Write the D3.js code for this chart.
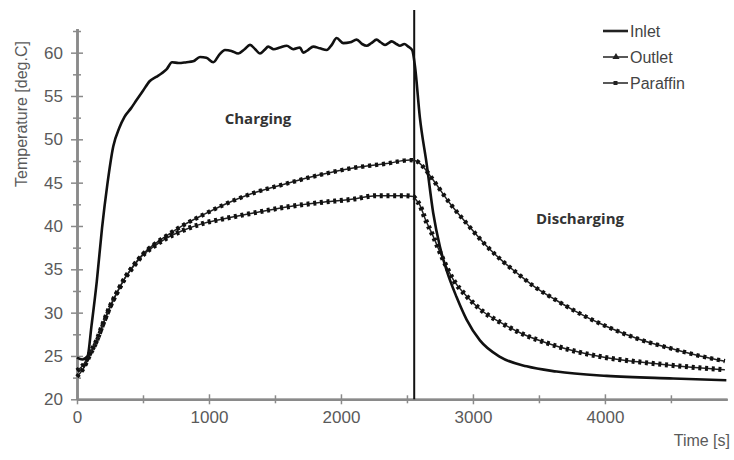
<!DOCTYPE html>
<html>
<head>
<meta charset="utf-8">
<script src="https://cdnjs.cloudflare.com/ajax/libs/d3/7.8.5/d3.min.js"></script>
<style>
  body { margin: 0; background: #fff; }
  text { font-family: "Liberation Sans", Arial, sans-serif; }
</style>
</head>
<body>
<div id="chart"></div>
<script>
// values (time in s, temperature in deg C)
const inletTime = [0, 40, 80, 110, 150, 190, 230, 275, 320, 360, 410, 450, 500, 550, 600, 640, 680, 720, 770, 830,
  880, 932, 980, 1033, 1080, 1121, 1170, 1222, 1270, 1311, 1350, 1386, 1420, 1449, 1490, 1538, 1589, 1639, 1689, 1714,
  1750, 1790, 1840, 1892, 1930, 1967, 2018, 2070, 2119, 2160, 2195, 2230, 2270, 2300, 2333, 2360, 2384, 2420, 2447, 2480,
  2510, 2540, 2561, 2598, 2649, 2699, 2750, 2800, 2876, 2952, 3053, 3205, 3407, 3634, 4013, 4517, 4920];
const inletTemp = [24.8, 24.6, 25.0, 28.5, 33.6, 39.8, 44.8, 49.2, 51.3, 52.6, 53.6, 54.5, 55.6, 56.7, 57.2, 57.6, 58.1, 58.9, 58.8, 58.9,
  59.0, 59.5, 59.4, 58.9, 59.8, 60.3, 60.2, 59.9, 60.4, 60.9, 60.4, 59.9, 60.3, 60.7, 60.4, 60.6, 60.8, 60.4, 60.6, 60.0,
  60.3, 60.7, 60.5, 60.3, 60.9, 61.7, 61.1, 61.2, 61.5, 61.0, 60.8, 61.1, 61.5, 61.2, 60.9, 61.1, 61.3, 61.0, 60.8, 61.0,
  60.7, 60.3, 58.4, 52.5, 47.2, 41.5, 37.6, 34.9, 31.8, 29.2, 26.8, 24.9, 23.8, 23.2, 22.7, 22.4, 22.2];

const outletTime = [0, 50, 98, 149, 199, 250, 313, 364, 426, 490, 578, 680, 806, 957, 1134, 1336, 1589, 1841, 2093, 2270,
  2472, 2548, 2570, 2598, 2636, 2699, 2775, 2851, 2952, 3078, 3205, 3381, 3558, 3760, 4013, 4265, 4517, 4909];
const outletTemp = [23.3, 24.0, 25.3, 26.8, 28.8, 30.7, 32.6, 34.0, 35.3, 36.5, 37.6, 38.6, 39.5, 40.3, 40.9, 41.5, 42.2, 42.7, 43.1, 43.5,
  43.5, 43.4, 43.0, 42.4, 40.9, 38.8, 36.1, 33.8, 31.9, 30.1, 28.9, 27.5, 26.5, 25.6, 24.8, 24.3, 23.9, 23.4];

const paraffinTime = [0, 50, 98, 149, 199, 250, 313, 364, 426, 490, 578, 680, 806, 957, 1134, 1336, 1589, 1841, 2093, 2346,
  2523, 2570, 2624, 2699, 2826, 2952, 3078, 3205, 3331, 3457, 3634, 3760, 4013, 4265, 4517, 4720, 4909];
const paraffinTemp = [22.6, 23.6, 25.1, 26.7, 28.7, 30.6, 32.6, 34.0, 35.4, 36.6, 37.8, 38.9, 40.1, 41.3, 42.6, 43.8, 44.9, 45.9, 46.7, 47.2,
  47.6, 47.5, 46.8, 45.3, 42.6, 40.3, 38.1, 36.2, 34.6, 33.1, 31.4, 30.3, 28.4, 26.9, 25.8, 25.0, 24.4];

const xTicks = [0, 1000, 2000, 3000, 4000];
const xMinorTicks = [500, 1500, 2500, 3500, 4500];
const yTicks = [20, 25, 30, 35, 40, 45, 50, 55, 60];
const yMinorTicks = [22.5, 27.5, 32.5, 37.5, 42.5, 47.5, 52.5, 57.5, 62.5];
const seriesNames = ["Inlet", "Outlet", "Paraffin"];
const switchTime = 2555;

const width = 734;
const height = 460;
const axisColor = "#8a8a8a";

const svg = d3
  .select("#chart")
  .append("svg")
  .attr("width", width)
  .attr("height", height);

const xScale = d3.scaleLinear().domain([0, 4925]).range([77, 727]);
const yScale = d3.scaleLinear().domain([20, 62.8]).range([399.3, 28.4]);

// axes: ticks cross the axis line, so draw them on both sides
function styleAxis(g) {
  g.selectAll("line").attr("stroke", axisColor).attr("stroke-width", 1.5);
  g.selectAll("path").attr("stroke", axisColor).attr("stroke-width", 2);
  g.selectAll("text")
    .attr("fill", "#5a5a5a")
    .style("font-size", "17px")
    .style("font-family", "'Liberation Sans', Arial, sans-serif");
}

const yG = svg.append("g").attr("transform", "translate(77,0)");
yG.append("g").call(d3.axisLeft(yScale).tickValues(yTicks).tickSize(6).tickSizeOuter(0).tickPadding(8)).call(styleAxis);
yG.append("g").call(d3.axisRight(yScale).tickValues(yTicks).tickSize(6).tickSizeOuter(0).tickFormat("")).call(styleAxis);
yG.append("g").call(d3.axisLeft(yScale).tickValues(yMinorTicks).tickSize(4).tickSizeOuter(0).tickFormat("")).call(styleAxis);
yG.append("g").call(d3.axisRight(yScale).tickValues(yMinorTicks).tickSize(4).tickSizeOuter(0).tickFormat("")).call(styleAxis);

const xG = svg.append("g").attr("transform", "translate(0,399.3)");
xG.append("g")
  .call(d3.axisBottom(xScale).tickValues(xTicks).tickFormat(d3.format("d")).tickSize(5).tickSizeOuter(0).tickPadding(7))
  .call(styleAxis);
xG.append("g").call(d3.axisTop(xScale).tickValues(xTicks).tickSize(5).tickSizeOuter(0).tickFormat("")).call(styleAxis);
xG.append("g").call(d3.axisBottom(xScale).tickValues(xMinorTicks).tickSize(4).tickSizeOuter(0).tickFormat("")).call(styleAxis);
xG.append("g").call(d3.axisTop(xScale).tickValues(xMinorTicks).tickSize(4).tickSizeOuter(0).tickFormat("")).call(styleAxis);

// axis titles
svg
  .append("text")
  .attr("transform", "translate(21,114) rotate(-90)")
  .attr("text-anchor", "middle")
  .attr("dominant-baseline", "central")
  .attr("fill", "#5a5a5a")
  .style("font-size", "16px")
  .text("Temperature [deg.C]");

svg
  .append("text")
  .attr("x", 730)
  .attr("y", 446)
  .attr("text-anchor", "end")
  .attr("fill", "#5a5a5a")
  .style("font-size", "16px")
  .text("Time [s]");

// charging / discharging divider
svg
  .append("line")
  .attr("x1", xScale(switchTime))
  .attr("x2", xScale(switchTime))
  .attr("y1", 10)
  .attr("y2", yScale(20))
  .attr("stroke", "#111")
  .attr("stroke-width", 2);

const toPoints = (times, temps) => times.map((t, i) => ({ t: t, v: temps[i] }));
const inlet = toPoints(inletTime, inletTemp);
const outlet = toPoints(outletTime, outletTemp);
const paraffin = toPoints(paraffinTime, paraffinTemp);

const line = d3
  .line()
  .x(d => xScale(d.t))
  .y(d => yScale(d.v))
  .curve(d3.curveMonotoneX);

// paraffin: thin line with square beads
svg.append("path").datum(paraffin).attr("d", line).attr("fill", "none").attr("stroke", "#222").attr("stroke-width", 1.5);
svg
  .append("path")
  .datum(paraffin)
  .attr("d", line)
  .attr("fill", "none")
  .attr("stroke", "#111")
  .attr("stroke-width", 4.4)
  .attr("stroke-dasharray", "3.2 3.8");

// outlet: thin line with triangle-ish beads
svg.append("path").datum(outlet).attr("d", line).attr("fill", "none").attr("stroke", "#222").attr("stroke-width", 1.5);
svg
  .append("path")
  .datum(outlet)
  .attr("d", line)
  .attr("fill", "none")
  .attr("stroke", "#111")
  .attr("stroke-width", 5)
  .attr("stroke-dasharray", "3 3.7");

svg
  .append("path")
  .datum(inlet)
  .attr("d", line)
  .attr("fill", "none")
  .attr("stroke", "#111")
  .attr("stroke-width", 2.6)
  .attr("stroke-linejoin", "round");

// region labels
svg
  .append("text")
  .attr("x", 258)
  .attr("y", 118)
  .attr("text-anchor", "middle")
  .attr("dominant-baseline", "central")
  .attr("fill", "#333")
  .style("font-family", "'Open Sans', sans-serif")
  .style("font-weight", "bold")
  .style("font-size", "15px")
  .text("Charging");

svg
  .append("text")
  .attr("x", 580)
  .attr("y", 218)
  .attr("text-anchor", "middle")
  .attr("dominant-baseline", "central")
  .attr("fill", "#333")
  .style("font-family", "'Open Sans', sans-serif")
  .style("font-weight", "bold")
  .style("font-size", "15px")
  .text("Discharging");

// legend
const legendY = [31, 57, 83];
seriesNames.forEach((name, i) => {
  const g = svg.append("g").attr("transform", "translate(603," + legendY[i] + ")");
  g.append("line")
    .attr("x1", 0)
    .attr("x2", 25)
    .attr("stroke", "#222")
    .attr("stroke-width", i === 0 ? 2.6 : 1.5);
  if (i === 1) {
    g.append("path").attr("d", d3.symbol(d3.symbolTriangle, 22)()).attr("transform", "translate(13,0)").attr("fill", "#222");
  }
  if (i === 2) {
    g.append("rect").attr("x", 10.5).attr("y", -2).attr("width", 4).attr("height", 4).attr("fill", "#222");
  }
  g.append("text")
    .attr("x", 27)
    .attr("dominant-baseline", "central")
    .attr("fill", "#444")
    .style("font-size", "16px")
    .text(name);
});
</script>
</body>
</html>
